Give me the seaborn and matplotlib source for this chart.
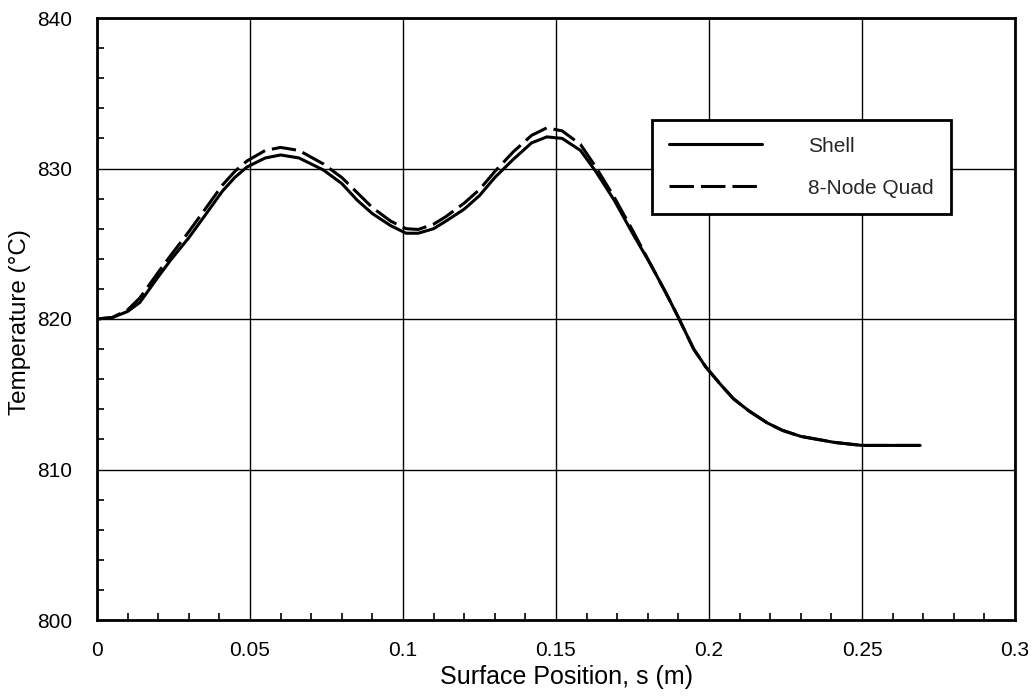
import matplotlib
matplotlib.use("Agg")
import matplotlib.pyplot as plt
import seaborn as sns
import pandas as pd
from matplotlib.ticker import MultipleLocator

# Data
shell_s = [0.000, 0.005, 0.010, 0.014, 0.020, 0.024, 0.030, 0.035, 0.041, 0.045,
           0.049, 0.055, 0.060, 0.066, 0.074, 0.080, 0.085, 0.090, 0.096, 0.101,
           0.105, 0.110, 0.114, 0.120, 0.125, 0.130, 0.136, 0.142, 0.147, 0.152,
           0.158, 0.163, 0.169, 0.175, 0.181, 0.186, 0.190, 0.195, 0.199, 0.204,
           0.208, 0.213, 0.219, 0.224, 0.230, 0.241, 0.250, 0.269]
shell_T = [820.0, 820.1, 820.5, 821.1, 822.8, 823.9, 825.4, 826.8, 828.5, 829.4,
           830.1, 830.7, 830.9, 830.7, 829.9, 829.0, 827.9, 827.0, 826.2, 825.7,
           825.7, 826.0, 826.5, 827.3, 828.2, 829.4, 830.6, 831.7, 832.1, 832.0,
           831.2, 829.8, 827.9, 825.7, 823.6, 821.7, 820.1, 818.0, 816.8, 815.6,
           814.7, 813.9, 813.1, 812.6, 812.2, 811.8, 811.6, 811.6]

quad_s = [0.000, 0.005, 0.010, 0.014, 0.020, 0.024, 0.030, 0.035, 0.041, 0.045,
          0.049, 0.055, 0.060, 0.066, 0.074, 0.080, 0.085, 0.090, 0.096, 0.101,
          0.105, 0.110, 0.114, 0.120, 0.125, 0.130, 0.136, 0.142, 0.147, 0.152,
          0.158, 0.163, 0.169, 0.175, 0.181, 0.186, 0.190, 0.195, 0.199, 0.204,
          0.208, 0.213, 0.219, 0.224, 0.230, 0.241, 0.250, 0.269]
quad_T = [820.0, 820.1, 820.6, 821.4, 823.1, 824.2, 825.8, 827.2, 828.9, 829.8,
          830.5, 831.2, 831.4, 831.2, 830.3, 829.4, 828.4, 827.4, 826.5, 826.0,
          825.95, 826.3, 826.8, 827.7, 828.6, 829.8, 831.1, 832.2, 832.7, 832.5,
          831.6, 830.1, 828.1, 825.9, 823.6, 821.7, 820.1, 818.0, 816.8, 815.6,
          814.7, 813.9, 813.1, 812.6, 812.2, 811.8, 811.6, 811.6]

series_names = ["Shell", "8-Node Quad"]
x_ticks = [0, 0.05, 0.1, 0.15, 0.2, 0.25, 0.3]
x_tick_labels = ["0", "0.05", "0.1", "0.15", "0.2", "0.25", "0.3"]
y_ticks = [800, 810, 820, 830, 840]

sns.set_theme(style="ticks")
plt.rcParams["font.family"] = ["Liberation Sans", "DejaVu Sans"]

fig = plt.figure(figsize=(10.36, 6.96), dpi=100)
ax = fig.add_axes([97 / 1036, 1 - 620 / 696, 918 / 1036, 602 / 696])

df_shell = pd.DataFrame({"s": shell_s, "T": shell_T})
df_quad = pd.DataFrame({"s": quad_s, "T": quad_T})

sns.lineplot(data=df_shell, x="s", y="T", ax=ax, color="black", linewidth=2.2,
             sort=False, label=series_names[0], zorder=3)
sns.lineplot(data=df_quad, x="s", y="T", ax=ax, color="black", linewidth=2.2,
             sort=False, label=series_names[1], zorder=3)
ax.lines[1].set_dashes((8, 2.3))

ax.set_xlim(0, 0.3)
ax.set_ylim(800, 840)
ax.set_xticks(x_ticks)
ax.set_xticklabels(x_tick_labels)
ax.set_yticks(y_ticks)
ax.xaxis.set_minor_locator(MultipleLocator(0.01))
ax.yaxis.set_minor_locator(MultipleLocator(2))

ax.grid(True, which="major", color="black", linewidth=1.0)
ax.tick_params(which="major", direction="in", length=0, labelsize=15,
               colors="black")
ax.tick_params(axis="x", which="major", pad=15)
ax.tick_params(axis="y", which="major", pad=18)
ax.tick_params(which="minor", direction="in", length=5, width=1.2, color="black")
for sp in ax.spines.values():
    sp.set_color("black")
    sp.set_linewidth(2.0)

ax.set_xlabel("Surface Position, s (m)", fontsize=18, color="black")
ax.set_ylabel("Temperature (\u00b0C)", fontsize=17.5, color="black")
ax.xaxis.set_label_coords((566 - 97) / 918, (620 - 677) / 602)
ax.xaxis.label.set_va("center")
ax.yaxis.set_label_coords((20 - 97) / 918, (620 - 322) / 602)
ax.yaxis.label.set_va("center")

leg = ax.legend(loc="upper left", bbox_to_anchor=(0.6046, 0.8306),
                borderaxespad=0, fontsize=15, handlelength=4.5,
                handletextpad=2.2, labelspacing=1.1, borderpad=0.8,
                frameon=True, fancybox=False, framealpha=1, edgecolor="black")
leg.get_frame().set_linewidth(2.0)
for h in leg.get_lines():
    h.set_linewidth(2.2)
leg.get_lines()[1].set_dashes((8, 2.3))

fig.savefig("out.png", dpi=100, facecolor="white")
